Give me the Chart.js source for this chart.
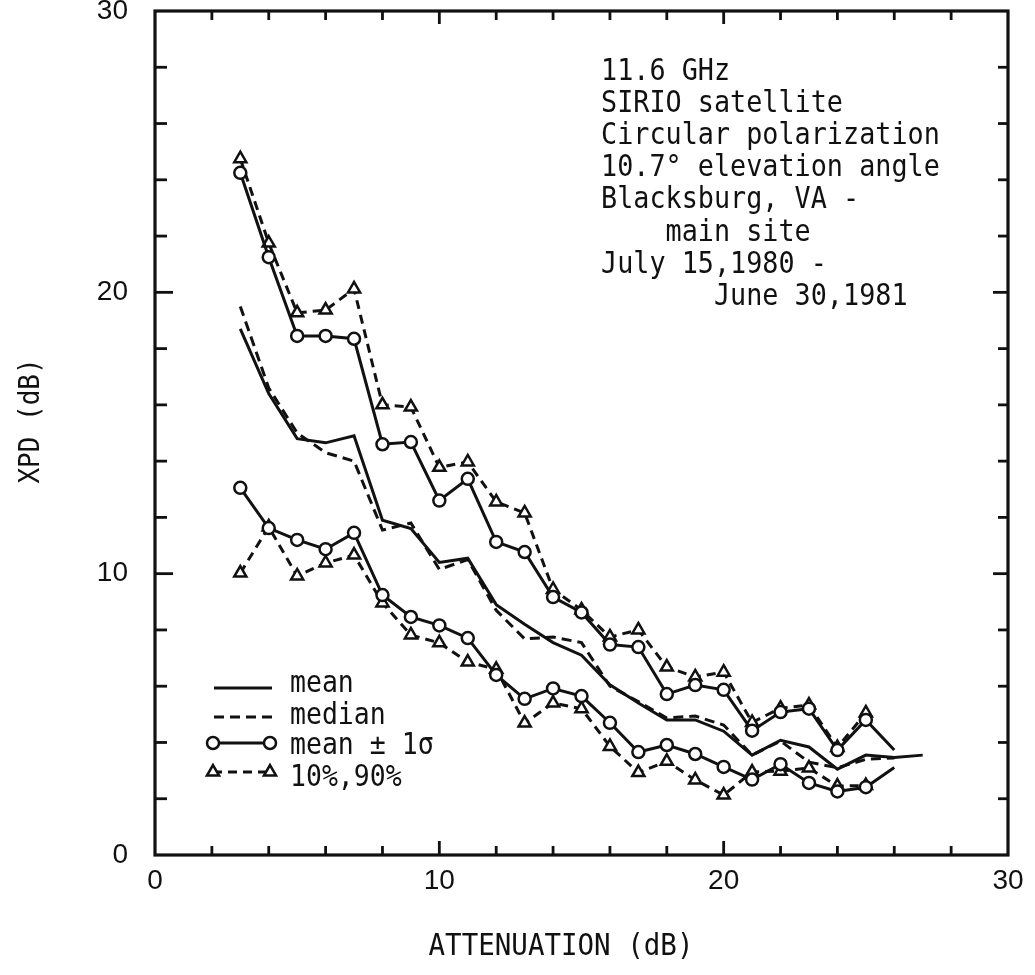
<!DOCTYPE html>
<html><head><meta charset="utf-8">
<script src="https://cdn.jsdelivr.net/npm/chart.js@4.4.1/dist/chart.umd.min.js"></script>
<style>html,body{margin:0;padding:0;background:#fff}#wrap{width:1035px;height:975px;position:relative}</style>
</head><body><div id="wrap"><canvas id="c" width="1035" height="975"></canvas></div>
<script>
// ---- data ----
const attenuation = [3,4,5,6,7,8,9,10,11,12,13,14,15,16,17,18,19,20,21,22,23,24,25,26,27];
const meanXPD   = [18.7,16.4,14.8,14.65,14.9,11.9,11.6,10.4,10.55,8.9,8.2,7.55,7.1,6.05,5.4,4.8,4.8,4.4,3.55,4.08,3.84,3.05,3.55,3.47,3.55];
const medianXPD = [19.5,16.6,15.0,14.3,14.0,11.55,11.8,10.15,10.5,8.7,7.68,7.75,7.55,6.0,5.45,4.87,4.94,4.62,3.55,4.05,3.3,3.1,3.4,3.45,null];
const meanPlusSigma  = [24.25,21.25,18.45,18.45,18.35,14.6,14.68,12.6,13.37,11.13,10.77,9.17,8.62,7.48,7.39,5.72,6.04,5.87,4.42,5.08,5.2,3.73,4.8,3.73,null];
const meanMinusSigma = [13.05,11.62,11.2,10.87,11.45,9.24,8.46,8.16,7.71,6.4,5.55,5.92,5.65,4.7,3.66,3.91,3.59,3.13,2.68,3.23,2.56,2.26,2.41,3.11,null];
const p90 = [24.75,21.75,19.27,19.37,20.12,16.0,15.92,13.78,13.97,12.55,12.16,9.44,8.71,7.75,8.0,6.68,6.33,6.5,4.71,5.22,5.33,3.82,5.05,null,null];
const p10 = [10.02,11.66,9.92,10.38,10.66,8.96,7.82,7.54,6.86,6.6,4.69,5.4,5.2,3.86,2.93,3.33,2.67,2.13,2.95,2.98,3.09,2.45,2.47,null,null];
const xTickLabels = ['0','10','20','30'];
const yTickLabels = ['0','10','20','30'];
const legendLabels = ['mean','median','mean \u00b1 1\u03c3','10%,90%'];
const infoLines = ['11.6 GHz','SIRIO satellite','Circular polarization','10.7\u00b0 elevation angle','Blacksburg, VA -','    main site','July 15,1980 -','       June 30,1981'];
const xTitle = 'ATTENUATION (dB)';
const yTitle = 'XPD (dB)';

const pts = arr => attenuation.map((a,i)=>({x:a,y:arr[i]}));
const INK = '#111';
const MONO = '"DejaVu Sans Mono", monospace';
const SY = 1.12; // tall, narrow typewriter look

function radiusFor(arr, r){
  // last non-null point of the ±1σ series carries no marker (line continues)
  let last = -1; arr.forEach((v,i)=>{ if(v!==null) last=i; });
  return arr.map((v,i)=> i===last ? 0 : r);
}

function tallText(ctx, s, x, y){
  ctx.save(); ctx.translate(x, y); ctx.scale(1, SY); ctx.fillText(s, 0, 0); ctx.restore();
}

const decor = {
  id:'decor',
  afterDraw(chart){
    const {ctx, chartArea:a, scales:{x,y}} = chart;
    ctx.save();
    ctx.strokeStyle = INK; ctx.fillStyle = INK;
    ctx.lineCap = 'butt';
    // frame
    ctx.lineWidth = 3.2;
    ctx.strokeRect(a.left, a.top, a.right-a.left, a.bottom-a.top);
    // inner ticks
    ctx.lineWidth = 2.8;
    const seg = (x1,y1,x2,y2)=>{ctx.beginPath();ctx.moveTo(x1,y1);ctx.lineTo(x2,y2);ctx.stroke();};
    x.ticks.forEach(t=>{
      if (t.value<=x.min || t.value>=x.max) return;
      const px = x.getPixelForValue(t.value);
      const major = t.value%10===0;
      seg(px, a.bottom, px, a.bottom-(major?14:9));
      seg(px, a.top, px, a.top+(major?13:9));
    });
    y.ticks.forEach(t=>{
      if (t.value<=y.min || t.value>=y.max) return;
      const py = y.getPixelForValue(t.value);
      const major = t.value%10===0;
      seg(a.left, py, a.left+(major?18:12), py);
      seg(a.right, py, a.right-(major?15:10), py);
    });
    // axis titles
    ctx.font = '27.5px ' + MONO;
    ctx.textAlign = 'center'; ctx.textBaseline = 'middle';
    tallText(ctx, xTitle, 561, 947);
    ctx.font = '26px ' + MONO;
    ctx.save(); ctx.translate(31, 421); ctx.rotate(-Math.PI/2);
    ctx.scale(1, SY); ctx.fillText(yTitle, 0, 0); ctx.restore();
    // info block
    ctx.font = '26.8px ' + MONO;
    ctx.textAlign = 'left'; ctx.textBaseline = 'alphabetic';
    infoLines.forEach((s,i)=> tallText(ctx, s, 601, 80 + i*32.1));
    // legend
    ctx.font = '26.5px ' + MONO;
    const base = [692, 724, 754, 786];
    legendLabels.forEach((s,i)=> tallText(ctx, s, 290, base[i]));
    ctx.lineWidth = 3;
    seg(214, 688, 272, 688);
    ctx.setLineDash([10,6]); seg(214, 717, 272, 717); ctx.setLineDash([]);
    seg(213, 743, 270, 743);
    ctx.setLineDash([9,6]); seg(213, 772, 270, 772); ctx.setLineDash([]);
    ctx.lineWidth = 2.5;
    [213,270].forEach(cx=>{
      ctx.beginPath(); ctx.arc(cx,743,6,0,Math.PI*2); ctx.fillStyle='#fff'; ctx.fill(); ctx.stroke();
      const r=7, cy=772; ctx.beginPath();
      let ang=0;
      for(let k=0;k<3;k++){ const px=cx+Math.sin(ang)*r, py=cy-Math.cos(ang)*r; k?ctx.lineTo(px,py):ctx.moveTo(px,py); ang+=2*Math.PI/3; }
      ctx.closePath(); ctx.fill(); ctx.stroke();
    });
    ctx.restore();
  }
};

const circleDs = (arr) => ({
  data: pts(arr), borderColor: INK, borderWidth: 3, tension: 0,
  pointStyle: 'circle', pointRadius: radiusFor(arr, 6), pointBorderWidth: 2.5,
  pointBackgroundColor: '#fff', pointBorderColor: INK
});
const triDs = (arr) => ({
  data: pts(arr), borderColor: INK, borderWidth: 3, tension: 0, borderDash: [9,6],
  pointStyle: 'triangle', pointRadius: 7, pointBorderWidth: 2.5,
  pointBackgroundColor: '#fff', pointBorderColor: INK
});

new Chart(document.getElementById('c'), {
  type: 'line',
  data: {
    datasets: [
      circleDs(meanPlusSigma),
      circleDs(meanMinusSigma),
      triDs(p90),
      triDs(p10),
      { data: pts(meanXPD), borderColor: INK, borderWidth: 3, tension: 0, pointRadius: 0 },
      { data: pts(medianXPD), borderColor: INK, borderWidth: 3, tension: 0, pointRadius: 0, borderDash: [10,6] }
    ]
  },
  options: {
    responsive: false, animation: false, devicePixelRatio: 1,
    layout: { padding: { left: 0, top: 11, right: 27, bottom: 0 } },
    plugins: { legend: { display: false }, tooltip: { enabled: false } },
    scales: {
      x: {
        type: 'linear', min: 0, max: 30,
        grid: { display: false, drawTicks: false }, border: { display: false },
        ticks: { stepSize: 2, autoSkip: false, maxRotation: 0, padding: 9, color: INK,
          font: { family: '"Liberation Sans", Arial, sans-serif', size: 28 },
          callback: v => v % 10 === 0 ? xTickLabels[v/10] : '' },
        afterFit: s => { s.height = 120; s.paddingLeft = 0; s.paddingRight = 0; }
      },
      y: {
        type: 'linear', min: 0, max: 30,
        grid: { display: false, drawTicks: false }, border: { display: false },
        ticks: { stepSize: 2, autoSkip: false, padding: 27, color: INK,
          font: { family: '"Liberation Sans", Arial, sans-serif', size: 28 },
          callback: v => v % 10 === 0 ? yTickLabels[v/10] : '' },
        afterFit: s => { s.width = 155; s.paddingTop = 0; s.paddingBottom = 0; }
      }
    }
  },
  plugins: [decor]
});
</script>
</body></html>
